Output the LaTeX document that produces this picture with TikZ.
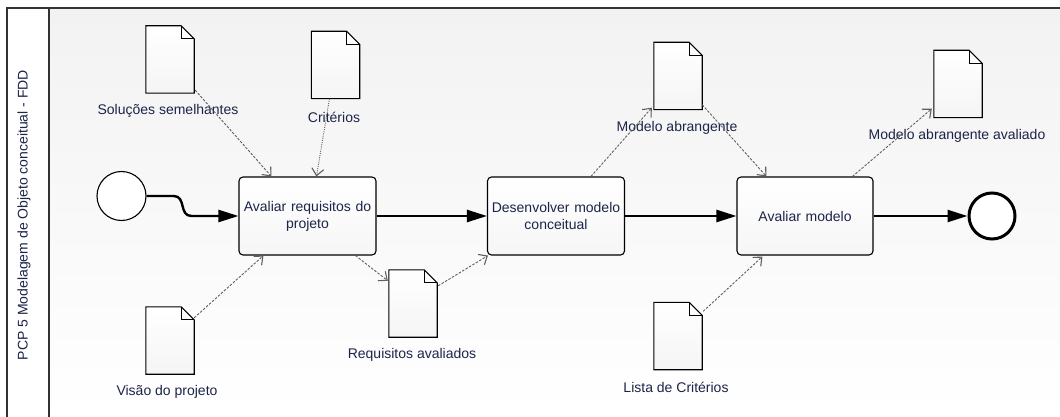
\documentclass[tikz,border=0pt]{standalone}
\usepackage{fontspec}
\setmainfont{Liberation Sans}
\usetikzlibrary{arrows.meta,calc}

\definecolor{txt}{RGB}{28,36,72}
\definecolor{assoc}{RGB}{95,95,95}
\definecolor{frameline}{RGB}{50,50,50}
\definecolor{lanetop}{RGB}{242,242,242}
\definecolor{lanemid}{RGB}{248,248,248}

\tikzset{
  lbl/.style={font=\fontsize{14}{16}\selectfont, text=txt, inner sep=0pt},
  task/.style={draw=black, line width=1.1pt, rounded corners=4pt,
    top color=white, bottom color=gray!7,
    minimum width=137pt, minimum height=78pt, inner sep=2pt,
    align=center, text width=132pt,
    font=\fontsize{14}{17}\selectfont, text=txt},
  docbox/.style={draw=none, minimum width=48pt, minimum height=67pt, inner sep=0pt},
  docline/.style={draw=black, line width=1.1pt, line join=miter,
    top color=white, bottom color=gray!8},
  startev/.style={circle, draw=black, line width=1.1pt, fill=white,
    minimum size=49pt, inner sep=0pt},
  endev/.style={circle, draw=black, line width=3pt, fill=white,
    minimum size=46pt, inner sep=0pt},
  seq/.style={draw=black, line width=2.4pt,
    -{Triangle[length=20pt,width=12pt]}},
  dataflow/.style={draw=assoc, line width=0.9pt, dash pattern=on 2.5pt off 1.5pt,
    -{Straight Barb[length=7pt,width=12pt,line width=1.1pt]}},
  dataflowdot/.style={draw=assoc, line width=0.9pt, dash pattern=on 1pt off 1.2pt,
    -{Straight Barb[length=7pt,width=12pt,line width=1.1pt]}},
  frame/.style={draw=frameline, line width=1.5pt},
}

% dog-eared document drawn over a named placeholder node
\newcommand{\docglyph}[1]{%
  \path[docline] (#1.north west) -- ([xshift=-13pt]#1.north east)
    -- ([yshift=-13pt]#1.north east) -- (#1.south east)
    -- (#1.south west) -- cycle;
  \draw[black, line width=1.1pt, line join=miter]
    ([xshift=-13pt]#1.north east) -- ([xshift=-13pt,yshift=-13pt]#1.north east)
    -- ([yshift=-13pt]#1.north east);
}

\begin{document}
\begin{tikzpicture}[x=1pt,y=-1pt]
  \useasboundingbox (0,0) rectangle (1060,417);

  % pool and lane
  \fill[white] (0,0) rectangle (1060,417);
  \shade[top color=lanetop, middle color=lanemid, bottom color=white] (49,8) rectangle (1060,417);
  \draw[frame] (1060,8) -- (7,8) -- (7,417);
  \draw[frame] (49,8) -- (49,417);
  \node[lbl, rotate=90] (lane) at (24,215) {PCP 5 Modelagem de Objeto conceitual - FDD};

  % events and tasks
  \node[startev] (s) at (121.5,196) {};
  \node[task] (t1) at (307.5,216) {Avaliar requisitos do\\projeto};
  \node[task] (t2) at (556,216) {Desenvolver modelo\\conceitual};
  \node[task, minimum width=136pt] (t3) at (805,216) {Avaliar modelo};
  \node[endev] (e) at (992,216) {};

  % data objects
  \node[docbox] (dsol)   at (170,59.5)  {};
  \node[docbox] (dcrit)  at (335.5,65)  {};
  \node[docbox] (dvis)   at (170,340.5) {};
  \node[docbox] (dreq)   at (413,303.5) {};
  \node[docbox] (dma)    at (678,76)    {};
  \node[docbox] (dlista) at (678,336)   {};
  \node[docbox] (dmaa)   at (958,84)    {};
  \docglyph{dsol}
  \docglyph{dcrit}
  \docglyph{dvis}
  \docglyph{dreq}
  \docglyph{dma}
  \docglyph{dlista}
  \docglyph{dmaa}

  % data object labels
  \node[lbl] (lsol)   at (168,111) {Soluções semelhantes};
  \node[lbl] (lcrit)  at (334,117) {Critérios};
  \node[lbl] (lvis)   at (167,392) {Visão do projeto};
  \node[lbl] (lreq)   at (412,355) {Requisitos avaliados};
  \node[lbl] (lma)    at (677,128) {Modelo abrangente};
  \node[lbl] (llista) at (676,387) {Lista de Critérios};
  \node[lbl] (lmaa)   at (957,136) {Modelo abrangente avaliado};

  % sequence flows
  \draw[seq] (s.east) -- ++(27,0) .. controls +(13,0) and +(-13,0) .. ++(18,20) -- (t1.west);
  \draw[seq] (t1.east) -- (t2.west);
  \draw[seq] (t2.east) -- (t3.west);
  \draw[seq] (t3.east) -- (e.west);

  % data associations
  \draw[dataflow]    ($(dsol.south east)+(1,-3)$)   -- ($(t1.north west)+(33,0)$);
  \draw[dataflowdot] ($(dcrit.south)+(-6,0)$)       -- ($(t1.north west)+(78,0)$);
  \draw[dataflow]    ($(dvis.north east)+(0,11)$)   -- ($(t1.south west)+(25,0)$);
  \draw[dataflow]    ($(t1.south west)+(117,0)$)    -- ($(dreq.north west)+(-1,11)$);
  \draw[dataflow]    ($(dreq.north east)+(1,16)$)   -- ($(t2.south west)+(1,0)$);
  \draw[dataflow]    ($(t2.north west)+(104,0)$)    -- ($(dma.south west)+(-2,-2)$);
  \draw[dataflow]    ($(dma.south east)+(0,-5)$)    -- ($(t3.north west)+(30,0)$);
  \draw[dataflow]    ($(t3.north west)+(116,0)$)    -- ($(dmaa.south west)+(-2,-9)$);
  \draw[dataflow]    ($(dlista.north east)+(1,9)$)  -- ($(t3.south west)+(26,1)$);
\end{tikzpicture}
\end{document}
